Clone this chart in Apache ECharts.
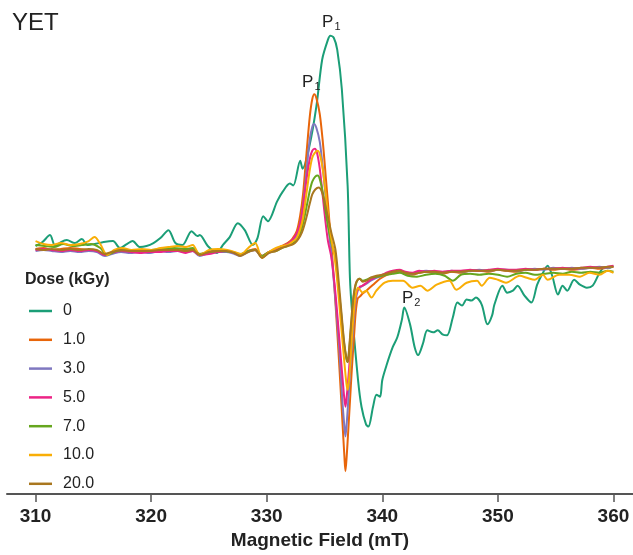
<!DOCTYPE html>
<html>
<head>
<meta charset="utf-8">
<title>YET EPR spectra</title>
<script src="https://cdn.jsdelivr.net/npm/echarts@6/dist/echarts.min.js"></script>
<style>
  html, body { margin: 0; padding: 0; background: #fff; }
  #main { width: 633px; height: 555px; }
</style>
</head>
<body>
<div id="main"></div>
<script>
// dose levels (kGy) and x ticks (mT)
var doseLabels = ['0', '1.0', '3.0', '5.0', '7.0', '10.0', '20.0'];
var tickValues = [310, 320, 330, 340, 350, 360];
var doseColors = ['#1b9e77', '#e8650a', '#7f78c0', '#ec2486', '#66a61e', '#f9ae06', '#a9771f'];

// spectra: [magnetic field (mT), signal (a.u.)]
var dose0 = [[310.0,7],[310.6,11],[311.25,18],[311.7,7],[312.2,11],[312.7,13],[313.4,10],[314.0,14],[314.5,8],[315.1,9],[315.9,11],[316.7,12],[317.3,5],[317.9,9],[318.4,12],[319.0,6],[319.6,7],[320.2,10],[320.8,15],[321.5,23],[322.1,10],[322.7,8],[323.5,22],[324.0,17],[324.2,18],[324.9,7],[325.7,0],[326.2,8],[326.8,16],[327.5,30],[328.1,23],[328.8,8],[329.2,15],[329.7,37],[330.1,32],[330.9,52],[331.4,62],[332.0,70],[332.3,68],[332.9,93],[333.1,85],[333.7,108],[334.3,148],[334.8,195],[335.3,215],[335.5,219],[335.8,217],[336.1,205],[336.5,165],[337.0,68],[337.2,-25],[337.4,-62],[337.9,-128],[338.2,-155],[338.6,-173],[338.8,-175],[339.2,-155],[339.5,-143],[339.8,-145],[340.0,-128],[340.4,-112],[340.9,-95],[341.3,-85],[341.7,-67],[341.9,-55],[342.4,-72],[342.8,-95],[343.1,-103],[343.5,-92],[343.9,-78],[344.4,-80],[344.8,-78],[345.2,-82],[345.6,-83],[346.1,-65],[346.5,-50],[346.9,-53],[347.3,-47],[347.7,-48],[348.1,-45],[348.6,-52],[349.1,-72],[349.5,-63],[349.7,-52],[350.4,-33],[350.8,-40],[351.3,-38],[351.7,-33],[352.3,-43],[352.9,-50],[353.4,-32],[353.9,-20],[354.3,-13],[354.7,-23],[355.2,-42],[355.6,-33],[356.0,-38],[356.6,-27],[357.1,-32],[357.7,-35],[358.2,-33],[358.8,-20],[359.2,-15],[359.7,-15],[359.9,-13]];
var dose1 = [[310.0,4],[310.7,5],[311.4,3],[312.2,4],[313.0,5],[313.8,4],[314.6,3],[315.3,2],[316.0,-2],[316.6,0],[317.4,2],[318.2,2],[319.0,1],[319.9,2],[320.7,3],[321.5,2],[322.3,3],[323.0,2],[323.6,4],[324.2,-1],[325.0,1],[325.8,2],[326.5,2],[327.2,0],[327.7,-2],[328.4,2],[329.0,4],[329.6,-3],[330.2,1],[330.8,4],[331.3,7],[331.8,10],[332.2,14],[332.6,22],[332.9,38],[333.15,60],[333.44,100],[333.73,138],[333.94,155],[334.12,160],[334.3,156],[334.59,140],[334.87,110],[335.1,78],[335.3,50],[335.5,20],[335.7,-8],[336.0,-60],[336.3,-118],[336.55,-170],[336.72,-205],[336.81,-220],[336.92,-205],[337.05,-180],[337.2,-150],[337.36,-118],[337.55,-85],[337.7,-60],[337.87,-46],[338.05,-44],[338.3,-41],[338.63,-38],[339.2,-32],[339.8,-26],[340.4,-22],[341.0,-20],[341.5,-19],[342.0,-21],[342.6,-22],[343.2,-20],[343.8,-19],[344.5,-20],[345.2,-21],[346.0,-19],[346.8,-20],[347.6,-18],[348.4,-18],[349.2,-19],[350.0,-17],[350.8,-18],[351.6,-19],[352.4,-17],[353.2,-17],[354.0,-16],[354.8,-17],[355.6,-16],[356.4,-17],[357.2,-16],[358.0,-15],[358.8,-16],[359.5,-15],[360.0,-14]];
var dose3 = [[310.0,2],[310.7,3],[311.4,2],[312.2,1],[313.0,2],[313.8,1],[314.6,2],[315.3,1],[316.0,-3],[316.6,-1],[317.4,1],[318.2,0],[319.0,1],[319.9,0],[320.7,2],[321.5,1],[322.3,2],[323.0,1],[323.6,2],[324.2,-3],[325.0,0],[325.8,1],[326.5,1],[327.2,-1],[327.7,-3],[328.4,1],[329.0,3],[329.6,-4],[330.2,0],[330.8,3],[331.3,6],[331.8,9],[332.2,12],[332.6,18],[332.9,30],[333.15,48],[333.44,82],[333.73,115],[333.94,127],[334.1,130],[334.3,126],[334.59,112],[334.87,84],[335.1,56],[335.3,32],[335.5,8],[335.7,-14],[336.0,-55],[336.3,-100],[336.55,-150],[336.72,-175],[336.81,-185],[336.92,-172],[337.05,-150],[337.2,-122],[337.36,-95],[337.55,-65],[337.7,-48],[337.87,-38],[338.05,-35],[338.3,-33],[338.63,-31],[339.0,-28],[339.49,-25],[340.0,-23],[340.35,-21],[340.9,-19],[341.5,-18],[342.0,-20],[342.6,-21],[343.2,-19],[343.8,-18],[344.5,-19],[345.2,-20],[346.0,-18],[346.8,-19],[347.6,-18],[348.4,-17],[349.2,-18],[350.0,-17],[350.8,-17],[351.6,-18],[352.4,-17],[353.2,-16],[354.0,-17],[354.8,-15],[355.6,-16],[356.4,-15],[357.2,-16],[358.0,-15],[358.8,-14],[359.5,-15],[360.0,-13]];
var dose5 = [[310.0,3],[310.7,4],[311.4,3],[312.2,2],[313.0,3],[313.8,2],[314.6,3],[315.3,2],[316.0,-2],[316.6,0],[317.4,2],[318.2,1],[319.0,0],[319.9,1],[320.7,1],[321.5,2],[322.3,2],[323.0,0],[323.6,2],[324.2,-2],[325.0,-1],[325.8,1],[326.5,2],[327.2,0],[327.7,-2],[328.4,2],[329.0,3],[329.6,-3],[330.2,1],[330.8,3],[331.3,6],[331.8,9],[332.2,13],[332.6,20],[332.9,30],[333.15,47],[333.44,74],[333.73,95],[333.94,103],[334.16,105],[334.35,101],[334.59,85],[334.87,55],[335.1,30],[335.3,12],[335.6,-5],[335.9,-35],[336.2,-75],[336.5,-118],[336.7,-145],[336.81,-155],[336.92,-145],[337.05,-128],[337.2,-105],[337.36,-80],[337.55,-58],[337.7,-44],[337.87,-37],[338.05,-34],[338.3,-33],[338.63,-30],[339.0,-27],[339.49,-24],[340.0,-22],[340.35,-20],[340.9,-18],[341.5,-17],[342.0,-19],[342.6,-20],[343.2,-18],[343.8,-19],[344.5,-18],[345.2,-19],[346.0,-18],[346.8,-18],[347.6,-17],[348.4,-18],[349.2,-17],[350.0,-16],[350.8,-17],[351.6,-17],[352.4,-16],[353.2,-17],[354.0,-16],[354.8,-16],[355.6,-15],[356.4,-16],[357.2,-15],[358.0,-14],[358.8,-15],[359.5,-14],[360.0,-13]];
var dose7 = [[310.0,8],[310.8,7],[311.6,6],[312.4,9],[313.2,7],[314.0,8],[314.8,9],[315.6,5],[316.2,-2],[317.0,2],[318.0,3],[319.0,3],[320.0,3],[321.0,4],[322.0,5],[323.0,4],[323.6,5],[324.2,-1],[325.0,1],[326.0,2],[327.0,1],[327.7,-1],[328.4,2],[329.0,3],[329.6,-3],[330.2,1],[330.8,2],[331.3,5],[331.8,7],[332.3,10],[332.6,13],[332.9,20],[333.15,30],[333.44,46],[333.73,63],[333.94,72],[334.2,77],[334.42,78],[334.6,74],[334.87,60],[335.1,42],[335.35,24],[335.6,10],[335.9,-2],[336.15,-28],[336.45,-62],[336.7,-92],[336.9,-107],[337.01,-110],[337.12,-100],[337.25,-82],[337.4,-60],[337.55,-42],[337.7,-32],[337.88,-27],[338.05,-26],[338.3,-28],[338.63,-27],[339.0,-25],[339.49,-24],[340.0,-23],[340.35,-22],[340.9,-21],[341.5,-20],[342.2,-23],[343.0,-24],[343.8,-22],[344.6,-21],[345.4,-23],[346.1,-28],[346.8,-22],[347.6,-21],[348.4,-22],[349.2,-21],[350.0,-22],[350.8,-24],[351.6,-21],[352.4,-20],[353.2,-22],[354.0,-21],[354.8,-20],[355.6,-21],[356.4,-19],[357.2,-20],[358.0,-19],[358.8,-20],[359.5,-18],[360.0,-19]];
var dose10 = [[310.0,12],[310.7,9],[311.4,8],[312.2,10],[313.0,8],[313.8,9],[314.6,12],[315.1,16],[315.6,9],[316.2,-2],[316.8,3],[317.5,5],[318.3,3],[319.2,4],[320.0,3],[320.8,5],[321.5,6],[322.3,7],[323.0,6],[323.6,8],[324.2,-2],[325.0,3],[325.8,4],[326.6,3],[327.2,1],[327.8,-1],[328.4,5],[329.0,10],[329.6,-5],[330.2,1],[330.8,5],[331.3,7],[331.8,8],[332.3,12],[332.6,15],[332.9,24],[333.15,36],[333.44,60],[333.73,84],[333.94,96],[334.16,101],[334.42,103],[334.65,97],[334.9,80],[335.15,55],[335.4,30],[335.65,10],[335.85,-2],[336.1,-28],[336.4,-68],[336.7,-108],[336.9,-132],[337.01,-138],[337.12,-128],[337.25,-108],[337.4,-80],[337.55,-58],[337.7,-43],[337.88,-35],[338.05,-37],[338.3,-40],[338.6,-38],[339.06,-45],[339.49,-38],[340.2,-30],[340.9,-28],[341.8,-28],[342.6,-35],[343.3,-33],[343.9,-38],[344.7,-32],[345.8,-28],[346.4,-37],[347.3,-30],[348.2,-28],[348.6,-33],[349.3,-25],[350.0,-27],[350.7,-30],[351.9,-23],[352.5,-25],[353.2,-27],[353.9,-22],[354.3,-27],[355.3,-22],[356.2,-22],[357.1,-24],[357.9,-20],[358.8,-22],[359.5,-18],[360.0,-20]];
var dose20 = [[310.0,4],[310.7,3],[311.4,4],[312.2,3],[313.0,4],[313.8,3],[314.6,4],[315.3,3],[316.0,-1],[316.6,1],[317.4,3],[318.2,2],[319.0,2],[319.9,2],[320.7,3],[321.5,3],[322.3,3],[323.0,2],[323.6,3],[324.2,-2],[325.0,1],[325.8,2],[326.5,2],[327.2,0],[327.7,-3],[328.4,1],[329.0,3],[329.6,-5],[330.2,0],[330.8,2],[331.3,5],[331.8,7],[332.3,9],[332.6,12],[332.9,17],[333.15,24],[333.44,36],[333.73,50],[333.94,59],[334.2,64],[334.5,66],[334.72,63],[335.0,52],[335.3,36],[335.6,20],[335.95,3],[336.2,-25],[336.45,-58],[336.7,-90],[336.9,-106],[337.01,-110],[337.12,-98],[337.25,-78],[337.4,-56],[337.55,-40],[337.7,-31],[337.88,-27],[338.05,-26],[338.3,-29],[338.63,-28],[339.0,-25],[339.49,-23],[340.0,-22],[340.35,-21],[340.9,-19],[341.5,-18],[342.0,-20],[342.6,-21],[343.2,-20],[343.8,-19],[344.5,-19],[345.2,-20],[346.0,-19],[346.8,-19],[347.6,-18],[348.4,-18],[349.2,-18],[350.0,-17],[350.8,-18],[351.6,-18],[352.4,-17],[353.2,-17],[354.0,-16],[354.8,-16],[355.6,-16],[356.4,-16],[357.2,-15],[358.0,-15],[358.8,-15],[359.5,-14],[360.0,-14]];

var spectra = [dose0, dose1, dose3, dose5, dose7, dose10, dose20];

// peak labels P1 / P2
var peakRich = {
  p: { fontSize: 17, color: '#222' },
  s: { fontSize: 11, color: '#222', verticalAlign: 'bottom', padding: [9, 0, 0, 1] }
};

var myChart = echarts.init(document.getElementById('main'));

var series = spectra.map(function (d, i) {
  return {
    name: doseLabels[i],
    type: 'line',
    data: d,
    symbol: 'none',
    smooth: 0.3,
    lineStyle: { width: 2, color: doseColors[i] },
    itemStyle: { color: doseColors[i] }
  };
});

series[0].markPoint = {
  symbol: 'rect',
  symbolSize: 1,
  itemStyle: { color: 'rgba(0,0,0,0)' },
  label: { show: true, position: 'top', distance: 4, rich: peakRich },
  data: [
    { coord: [335.5, 219], label: { formatter: '{p|P}{s|1}', offset: [1, 1] } },
    { coord: [341.9, -55], label: { formatter: '{p|P}{s|2}', offset: [7, 5] } }
  ]
};
series[1].markPoint = {
  symbol: 'rect',
  symbolSize: 1,
  itemStyle: { color: 'rgba(0,0,0,0)' },
  label: { show: true, position: 'top', distance: 4, rich: peakRich },
  data: [
    { coord: [334.12, 160], label: { formatter: '{p|P}{s|1}', offset: [-3, 3] } }
  ]
};

var option = {
  animation: false,
  textStyle: { fontFamily: 'Liberation Sans, Arial, sans-serif' },
  title: [
    {
      text: 'YET', left: 12, top: 11, padding: 0,
      textStyle: { fontSize: 24, fontWeight: 'normal', color: '#222' }
    },
    {
      text: 'Dose (kGy)', left: 25, top: 272, padding: 0,
      textStyle: { fontSize: 16, fontWeight: 'bold', color: '#222' }
    }
  ],
  legend: {
    data: doseLabels,
    orient: 'vertical',
    left: 29,
    top: 303,
    padding: 0,
    icon: 'rect',
    itemWidth: 23,
    itemHeight: 2.5,
    itemGap: 12.8,
    textStyle: { fontSize: 16, color: '#222', padding: [0, 0, 0, 6] }
  },
  grid: { left: 7, right: 0, top: 0, bottom: 57 },
  xAxis: {
    type: 'value',
    min: 307.53,
    max: 361.69,
    name: 'Magnetic Field (mT)',
    nameLocation: 'middle',
    nameGap: 37,
    nameTextStyle: { fontSize: 19, fontWeight: 'bold', color: '#222' },
    axisLine: { onZero: false, lineStyle: { color: '#555', width: 2 } },
    axisTick: { customValues: tickValues, length: 8, lineStyle: { color: '#555', width: 1.5 } },
    axisLabel: { customValues: tickValues, margin: 13, fontSize: 19, fontWeight: 'bold', color: '#222' },
    splitLine: { show: false }
  },
  yAxis: {
    type: 'value',
    show: false,
    min: -243,
    max: 255
  },
  series: series
};

myChart.setOption(option);
</script>
</body>
</html>
